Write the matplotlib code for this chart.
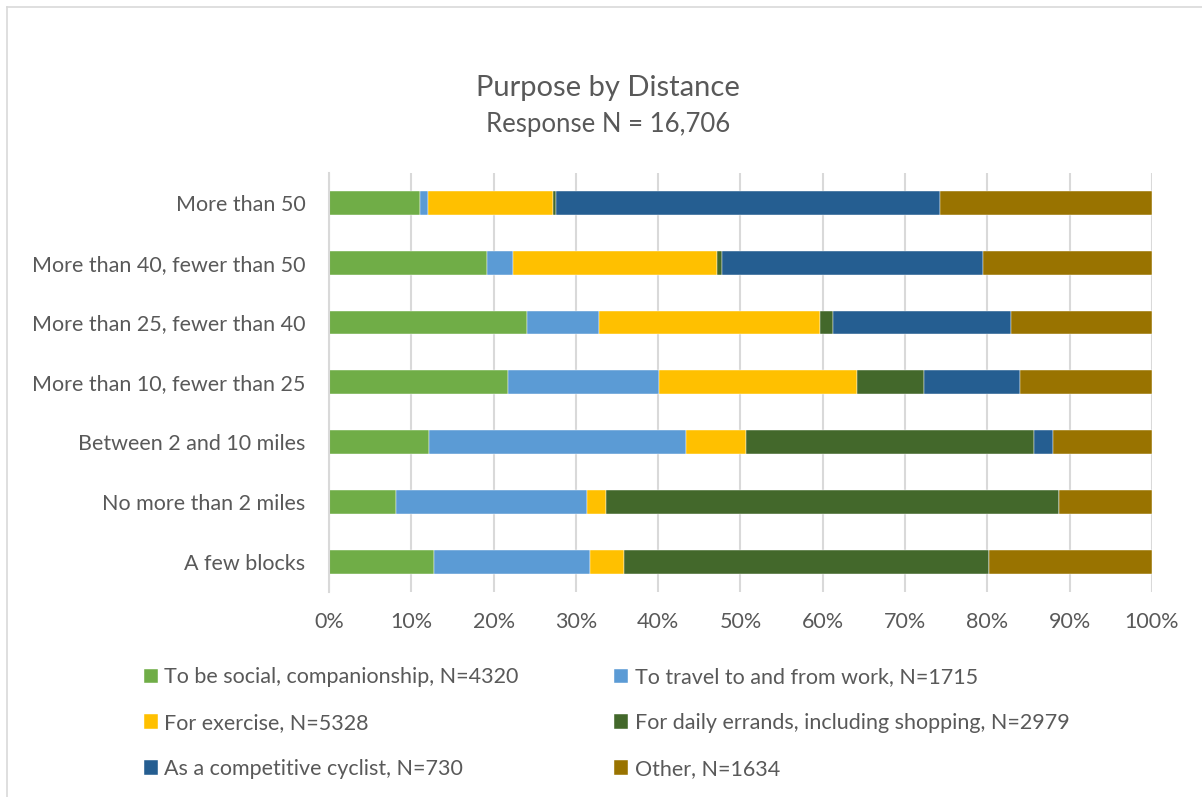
import matplotlib.pyplot as plt
import matplotlib.lines as mlines
import numpy as np

plt.rcParams['font.family'] = ['Lato', 'DejaVu Sans']

# categories, bottom to top
distances = ["A few blocks", "No more than 2 miles", "Between 2 and 10 miles",
             "More than 10, fewer than 25", "More than 25, fewer than 40",
             "More than 40, fewer than 50", "More than 50"]

# percent of each distance group
social    = [12.8,  8.2, 12.1, 21.8, 24.1, 19.2, 11.0]
work      = [18.9, 23.1, 31.3, 18.3,  8.7,  3.2,  1.0]
exercise  = [ 4.1,  2.3,  7.3, 24.0, 26.9, 24.7, 15.2]
errands   = [44.4, 55.1, 35.0,  8.2,  1.6,  0.6,  0.4]
cyclist   = [ 0.0,  0.0,  2.3, 11.7, 21.6, 31.8, 46.6]
other     = [19.8, 11.3, 12.0, 16.0, 17.1, 20.5, 25.8]

series_labels = ["To be social, companionship, N=4320",
                 "To travel to and from work, N=1715",
                 "For exercise, N=5328",
                 "For daily errands, including shopping, N=2979",
                 "As a competitive cyclist, N=730",
                 "Other, N=1634"]
colors = ["#70AD47", "#5B9BD5", "#FFC000", "#43682B", "#255E91", "#997300"]

TEXT = "#595959"

fig = plt.figure(figsize=(12.02, 7.97), dpi=100)
ax = fig.add_axes([0.2737, 0.2577, 0.6847, 0.5252])

y = np.arange(len(distances))
left = np.zeros(len(distances))
handles = []
for vals, lab, col in zip([social, work, exercise, errands, cyclist, other],
                          series_labels, colors):
    vals = np.array(vals)
    b = ax.barh(y, vals, left=left, height=0.4, color=col, label=lab,
                edgecolor="white", linewidth=0.3)
    handles.append(b)
    left += vals

ax.set_xlim(0, 100)
ax.set_ylim(-0.5, len(distances) - 0.5)
ax.set_xticks(np.arange(0, 101, 10))
ax.set_xticklabels([f"{v}%" for v in range(0, 101, 10)])
ax.set_yticks(y)
ax.set_yticklabels(distances)
ax.tick_params(axis="both", length=0, labelsize=15.5, colors=TEXT)
ax.tick_params(axis="x", pad=15)
ax.tick_params(axis="y", pad=17)
ax.grid(axis="x", color="#D9D9D9", linewidth=1.5)
ax.set_axisbelow(True)
for s in ["top", "right", "bottom"]:
    ax.spines[s].set_visible(False)
ax.spines["left"].set_color("#D9D9D9")
ax.spines["left"].set_linewidth(1.5)

fig.text(0.506, 0.889, "Purpose by Distance", ha="center", va="center",
         fontsize=21, color=TEXT)
fig.text(0.506, 0.844, "Response N = 16,706", ha="center", va="center",
         fontsize=18.5, color=TEXT)

# legend filled row by row like the original
order = [0, 2, 4, 1, 3, 5]
leg = fig.legend(handles=[handles[i] for i in order],
                 labels=[series_labels[i] for i in order], ncol=2,
                 loc="upper left", bbox_to_anchor=(0.1035, 0.187),
                 frameon=False, fontsize=15.5, handlelength=0.65, handleheight=0.65,
                 handletextpad=0.3, columnspacing=4.45, labelspacing=1.2,
                 labelcolor=TEXT)

# chart area border (only top and left edges show in the crop)
bx, by = 6.5 / 1202, 1 - 6.5 / 797
fig.lines.append(mlines.Line2D([bx, 1], [by, by], transform=fig.transFigure,
                               color="#D9D9D9", linewidth=1.2))
fig.lines.append(mlines.Line2D([bx, bx], [0, by], transform=fig.transFigure,
                               color="#D9D9D9", linewidth=1.2))

fig.savefig("out.png", dpi=100)
